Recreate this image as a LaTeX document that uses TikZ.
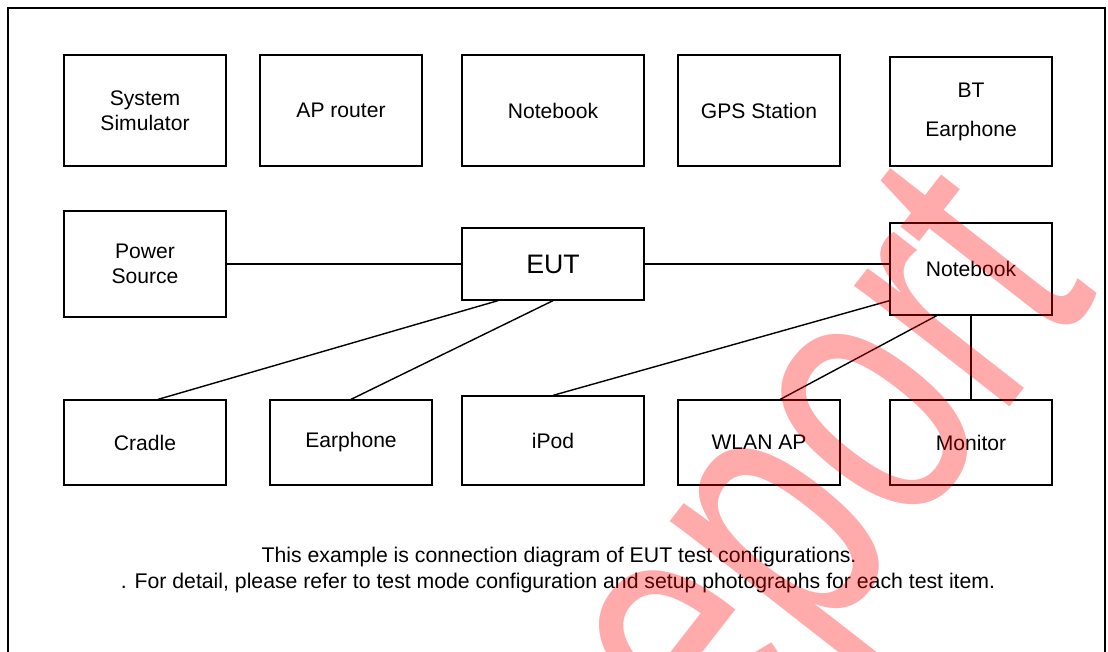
\documentclass[tikz,border=0pt]{standalone}
\usepackage{fontspec}
\setmainfont{Liberation Sans}
\newfontfamily\stampfont[FakeStretch=0.72]{Liberation Sans}
\usetikzlibrary{calc}
\tikzstyle{unit}=[
        draw = black,
        line width = 0.9pt,
        fill = white,
        align = center,
        inner sep = 0pt,
        font = \fontsize{15}{17.7}\selectfont
    ]
\tikzstyle{stamp}=[
    text = red,
    text opacity = 0.33,
    inner sep = 0pt,
    font = \stampfont\fontsize{265}{265}\selectfont
]

\begin{document}
\begin{tikzpicture}[x=0.025cm, y=-0.025cm, line width=1pt,
        boxsize/.style 2 args = {minimum width={#1*0.025cm}, minimum height={#2*0.025cm}}]
        \clip (0,0) rectangle (1108,651);
        \draw[line width=1.8pt] (8,660) -- (8,8) -- (1105,8) -- (1105,660);

        % top row
        \node[unit, boxsize={162}{111}] (sim) at (145,110.5) {System\\Simulator};
        \node[unit, boxsize={162}{111}] (ap) at (341,110.5) {AP router};
        \node[unit, boxsize={182}{111}] (nbtop) at (553,110.5) {Notebook};
        \node[unit, boxsize={162}{111}] (gps) at (759,110.5) {GPS Station};
        \node[unit, boxsize={162}{109}] (bt) at (971,111.5) {BT\\[10pt]Earphone};

        % middle row
        \node[unit, boxsize={162}{106}] (power) at (145,264) {Power\\Source};
        \node[unit, boxsize={182}{72}, font=\fontsize{19}{22}\selectfont] (eut) at (553,264) {EUT};
        \node[unit, boxsize={162}{92}] (nbmid) at (971,269) {Notebook};

        % bottom row
        \node[unit, boxsize={162}{85}] (cradle) at (145,442.5) {Cradle};
        \node[unit, boxsize={162}{85}] (earph) at (351,442.5) {Earphone};
        \node[unit, boxsize={182}{89}] (ipod) at (553,440.5) {iPod};
        \node[unit, boxsize={162}{85}] (wlan) at (759,442.5) {WLAN AP};
        \node[unit, boxsize={162}{85}] (monitor) at (971,442.5) {Monitor};

        \draw (power) -- (eut);
        \draw (eut.east) -- (eut.east -| nbmid.west);
        \draw ($(eut.south west)!0.2!(eut.south east)$) -- ($(cradle.north west)!0.58!(cradle.north east)$);
        \draw (eut.south) -- (earph.north);
        \draw (ipod.north) -- ($(nbmid.north west)!0.84!(nbmid.south west)$);
        \draw ($(wlan.north west)!0.63!(wlan.north east)$) -- ($(nbmid.south west)!0.29!(nbmid.south east)$);
        \draw (nbmid.south) -- (monitor.north);

        \node[font=\fontsize{15.1}{17}\selectfont] (note1) at (559,557) {This example is connection diagram of EUT test configurations.};
        \node[font=\fontsize{15.1}{17}\selectfont] (note2) at (558,583) {. For detail, please refer to test mode configuration and setup photographs for each test item.};

        \node[stamp, anchor=base east, rotate=52] (wm) at (1100,292) {Report};
    \end{tikzpicture}
\end{document}
